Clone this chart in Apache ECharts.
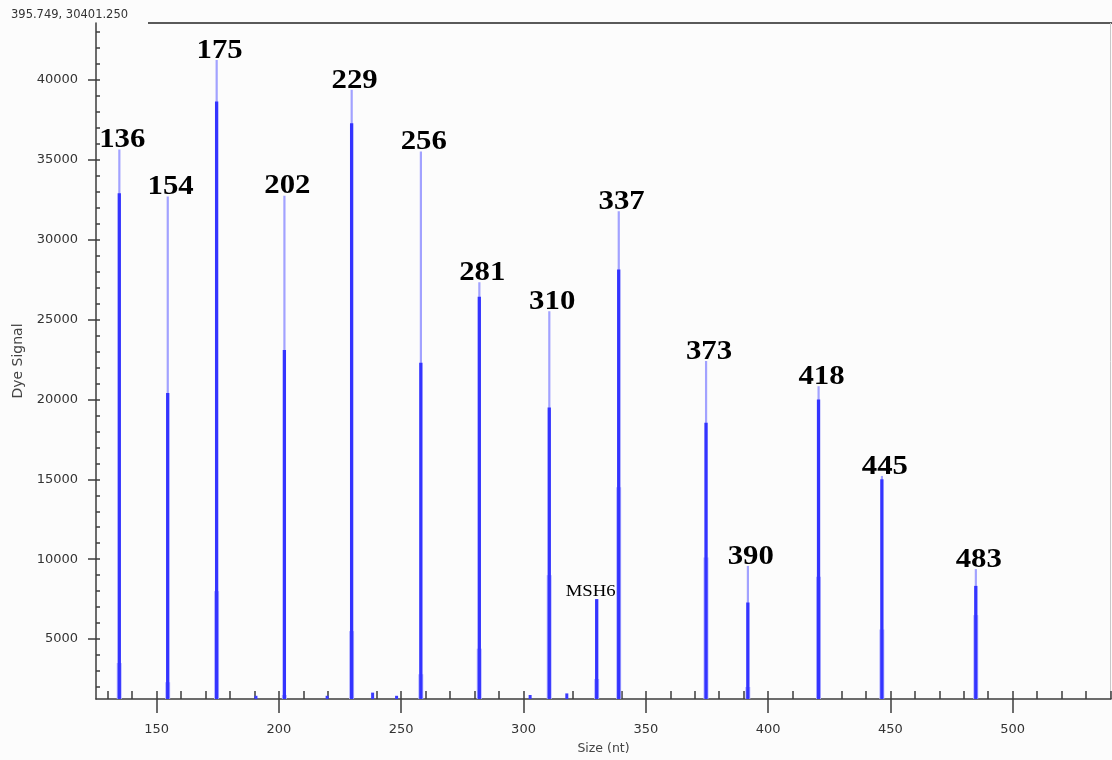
<!DOCTYPE html>
<html>
<head>
<meta charset="utf-8">
<script src="https://cdn.jsdelivr.net/npm/echarts@6/dist/echarts.min.js"></script>
<style>
  html, body { margin: 0; padding: 0; background: #fcfcfc; }
  #chart { width: 1112px; height: 760px; }
</style>
</head>
<body>
<div id="chart"></div>
<script>
// Size-standard ladder: fragment label, fitted size (nt), apex signal,
// signal where the trace narrows into a single stroke, and foot-shoulder signal
const ladderLabels   = ['136', '154', '175', '202', '229', '256', '281', '310', '337', '373', '390', '418', '445', '483'];
const ladderSizes    = [134.7, 154.5, 174.5, 202.2, 229.7, 258.0, 281.9, 310.5, 338.9, 374.6, 391.7, 420.6, 446.5, 484.9];
const ladderApex     = [35650, 32700, 41250, 32750, 39380, 35520, 27330, 25520, 31770, 22400, 9580, 20830, 15210, 9380];
const ladderCore     = [32900, 20400, 38650, 23100, 37290, 22300, 26420, 19500, 28130, 18540, 7290, 20000, 15000, 8330];
const ladderShoulder = [3500, 2300, 8000, 1500, 5500, 2800, 4400, 9000, 14500, 10100, 2000, 8900, 5600, 6500];

// Sample peak
const sampleLabels   = ['MSH6'];
const sampleSizes    = [329.9];
const sampleApex     = [7500];
const sampleShoulder = [2500];

// Small baseline blips
const blipSizes  = [190.6, 219.7, 238.3, 248.1, 302.7, 317.7];
const blipSignal = [1450, 1450, 1650, 1450, 1500, 1600];

// Axis ticks
const xTickLabels = [150, 200, 250, 300, 350, 400, 450, 500];
const yTickLabels = [5000, 10000, 15000, 20000, 25000, 30000, 35000, 40000];
const cursorReadout = '395.749, 30401.250';

const X_MIN = 125.2, X_MAX = 540.2;
const Y_MIN = 1250, Y_MAX = 43560;

// every 10 nt / every 1000 signal units for the short inner ticks
const xInnerTicks = [];
for (let v = 130; v <= 540; v += 10) xInnerTicks.push(v);
const yInnerTicks = [];
for (let v = 2000; v <= 43000; v += 1000) yInnerTicks.push(v);

const axisColor = '#3c3c3c';
const plain = v => String(v);
const chart = echarts.init(document.getElementById('chart'), null, { renderer: 'canvas' });

function spikeParts(api, apex, core, shoulder) {
  const x = api.value(0);
  const b = api.coord([x, Y_MIN]);
  const a = api.coord([x, apex]);
  const c = api.coord([x, core]);
  const s = api.coord([x, shoulder]);
  const parts = [];
  if (shoulder > Y_MIN) {
    parts.push({ type: 'rect', shape: { x: b[0] - 2.5, y: s[1], width: 5, height: b[1] - s[1] },
                 style: { fill: '#b8b8ff' } });
  }
  parts.push({ type: 'rect', shape: { x: b[0] - 1, y: a[1], width: 2.2, height: b[1] - a[1] },
               style: { fill: '#a2a2ff' } });
  parts.push({ type: 'rect', shape: { x: b[0] - 1.6, y: c[1], width: 3.3, height: b[1] - c[1] },
               style: { fill: '#3434ff' } });
  return { parts, apexPt: a };
}

const option = {
  backgroundColor: '#fcfcfc',
  animation: false,
  grid: { left: 96, right: 1, top: 23, bottom: 60, containLabel: false },
  xAxis: [
    {
      type: 'value', min: X_MIN, max: X_MAX, position: 'bottom',
      name: 'Size (nt)', nameLocation: 'middle', nameGap: 43,
      nameTextStyle: { fontFamily: 'DejaVu Sans', fontSize: 12.5, color: '#444' },
      axisLine: { show: true, onZero: false, lineStyle: { color: axisColor, width: 1.5 } },
      axisTick: { show: true, customValues: xTickLabels, length: 14, lineStyle: { color: axisColor, width: 1.5 } },
      axisLabel: { customValues: xTickLabels, formatter: plain, margin: 24, fontFamily: 'DejaVu Sans', fontSize: 13, color: '#333' },
      splitLine: { show: false }
    },
    {
      type: 'value', min: X_MIN, max: X_MAX, position: 'bottom',
      axisLine: { show: false, onZero: false },
      axisTick: { show: true, inside: true, customValues: xInnerTicks, length: 8, lineStyle: { color: axisColor, width: 1.5 } },
      axisLabel: { show: false },
      splitLine: { show: false }
    }
  ],
  yAxis: [
    {
      type: 'value', min: Y_MIN, max: Y_MAX, position: 'left',
      name: 'Dye Signal', nameLocation: 'middle', nameGap: 71, nameRotate: 90,
      nameTextStyle: { fontFamily: 'DejaVu Sans', fontSize: 14, color: '#444' },
      axisLine: { show: true, onZero: false, lineStyle: { color: axisColor, width: 1.5 } },
      axisTick: { show: true, customValues: yTickLabels, length: 8, lineStyle: { color: axisColor, width: 1.5 } },
      axisLabel: { customValues: yTickLabels, formatter: plain, margin: 18, fontFamily: 'DejaVu Sans', fontSize: 13, color: '#333' },
      splitLine: { show: false }
    },
    {
      type: 'value', min: Y_MIN, max: Y_MAX, position: 'left',
      axisLine: { show: false, onZero: false },
      axisTick: { show: true, inside: true, customValues: yInnerTicks, length: 4, lineStyle: { color: axisColor, width: 1.5 } },
      axisLabel: { show: false },
      splitLine: { show: false }
    }
  ],
  graphic: [
    { type: 'line', shape: { x1: 148, y1: 23, x2: 1112, y2: 23 }, style: { stroke: '#5a5a5a', lineWidth: 2 } },
    { type: 'line', shape: { x1: 1110.5, y1: 23, x2: 1110.5, y2: 700 }, style: { stroke: '#c8c8c8', lineWidth: 1 } },
    { type: 'text', left: 11, top: 9,
      style: { text: cursorReadout, fontFamily: 'DejaVu Sans', fontSize: 11.5, fill: '#333' } }
  ],
  series: [
    {
      name: 'ladder', type: 'custom', xAxisIndex: 0, yAxisIndex: 0, clip: false,
      data: ladderSizes.map((s, i) => [s, ladderApex[i], ladderCore[i], ladderShoulder[i]]),
      renderItem: function (params, api) {
        const i = params.dataIndex;
        const sp = spikeParts(api, api.value(1), api.value(2), api.value(3));
        sp.parts.push({
          type: 'text', x: sp.apexPt[0] + 3, y: sp.apexPt[1] + 4.5, scaleX: 1.1,
          style: { text: ladderLabels[i], font: 'bold 28px "Liberation Serif"', fill: '#000',
                   align: 'center', verticalAlign: 'bottom' }
        });
        return { type: 'group', children: sp.parts };
      }
    },
    {
      name: 'sample', type: 'custom', xAxisIndex: 0, yAxisIndex: 0, clip: false,
      data: sampleSizes.map((s, i) => [s, sampleApex[i], sampleShoulder[i]]),
      renderItem: function (params, api) {
        const i = params.dataIndex;
        const sp = spikeParts(api, api.value(1), api.value(1), api.value(2));
        sp.parts.push({
          type: 'text', x: sp.apexPt[0] - 6, y: sp.apexPt[1] + 1, scaleX: 1.1,
          style: { text: sampleLabels[i], font: '17px "Liberation Serif"', fill: '#000',
                   align: 'center', verticalAlign: 'bottom' }
        });
        return { type: 'group', children: sp.parts };
      }
    },
    {
      name: 'blips', type: 'custom', xAxisIndex: 0, yAxisIndex: 0, clip: false,
      data: blipSizes.map((s, i) => [s, blipSignal[i]]),
      renderItem: function (params, api) {
        const x = api.value(0);
        const b = api.coord([x, Y_MIN]);
        const t = api.coord([x, api.value(1)]);
        return { type: 'rect', shape: { x: b[0] - 1.5, y: t[1], width: 3, height: b[1] - t[1] },
                 style: { fill: '#3b3bff' } };
      }
    }
  ]
};

chart.setOption(option);
</script>
</body>
</html>
